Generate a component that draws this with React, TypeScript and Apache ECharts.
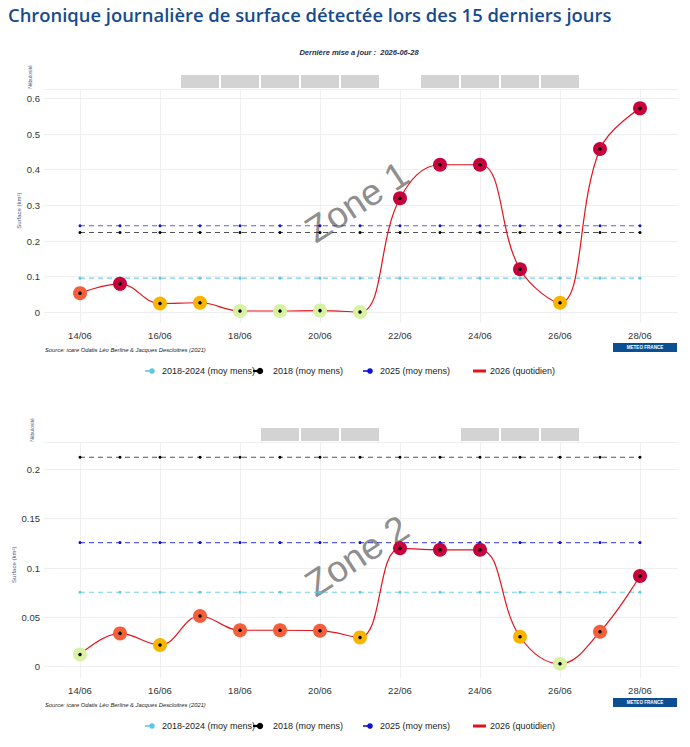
import React, { useEffect, useRef } from 'react';
import * as echarts from 'echarts';

// ---------- data ----------
const DAYS = [14, 15, 16, 17, 18, 19, 20, 21, 22, 23, 24, 25, 26, 27, 28];
const MONTH = '06';
const TITLE = 'Chronique journalière de surface détectée lors des 15 derniers jours';
const SUBTITLE = 'Dernière mise a jour :  2026-06-28';
const SOURCE = 'Source: icare Odatis Léo Berline & Jacques Descloitres (2021)';
const LEGEND_NAMES = ['2018-2024 (moy mens)', '2018 (moy mens)', '2025 (moy mens)', '2026 (quotidien)'];

// Zone 1
const Z1_VALUES = [0.054, 0.080, 0.025, 0.027, 0.004, 0.004, 0.005, 0.001, 0.320, 0.414, 0.414, 0.121, 0.027, 0.458, 0.572];
const Z1_CLASSES = [2, 3, 1, 1, 0, 0, 0, 0, 3, 3, 3, 3, 1, 3, 3];
const Z1_REF_2018_2024 = 0.096;
const Z1_REF_2018 = 0.224;
const Z1_REF_2025 = 0.243;
const Z1_CLOUDY_DAYS = [17, 18, 19, 20, 21, 23, 24, 25, 26];

// Zone 2
const Z2_VALUES = [0.0125, 0.0338, 0.022, 0.0514, 0.037, 0.037, 0.0365, 0.0297, 0.120, 0.1185, 0.1185, 0.0304, 0.003, 0.0355, 0.0919];
const Z2_CLASSES = [0, 2, 1, 2, 2, 2, 2, 1, 3, 3, 3, 1, 0, 2, 3];
const Z2_REF_2018_2024 = 0.0755;
const Z2_REF_2018 = 0.2122;
const Z2_REF_2025 = 0.1258;
const Z2_CLOUDY_DAYS = [19, 20, 21, 24, 25, 26];

// ---------- styles ----------
const PALETTE = ['#d8f2a4', '#f7b500', '#f45e3a', '#c6033c'];
const C_LIGHT = '#5cc8e6';
const C_BLACK = '#000000';
const C_BLUE = '#1010d8';
const C_RED = '#e3131b';
const FONT = '"Liberation Sans", Arial, sans-serif';

type Panel = {
  values: number[];
  classes: number[];
  refs: number[];
  cloudy: number[];
  yMin: number;
  yMax: number;
  step: number;
  stripTop: number;
  mainTop: number;
  mainHeight: number;
  zone: string;
};

const PANELS: Panel[] = [
  {
    values: Z1_VALUES, classes: Z1_CLASSES,
    refs: [Z1_REF_2018_2024, Z1_REF_2018, Z1_REF_2025],
    cloudy: Z1_CLOUDY_DAYS, yMin: -0.0297, yMax: 0.6263, step: 0.1,
    stripTop: 75, mainTop: 89, mainHeight: 234, zone: 'Zone 1',
  },
  {
    values: Z2_VALUES, classes: Z2_CLASSES,
    refs: [Z2_REF_2018_2024, Z2_REF_2018, Z2_REF_2025],
    cloudy: Z2_CLOUDY_DAYS, yMin: -0.0114, yMax: 0.2277, step: 0.05,
    stripTop: 428, mainTop: 442, mainHeight: 236, zone: 'Zone 2',
  },
];

const GRID_LEFT = 44;
const GRID_RIGHT = 12;
const X_MIN = 13.1;
const X_MAX = 28.95;

function buildOption() {
  const grid: any[] = [];
  const xAxis: any[] = [];
  const yAxis: any[] = [];
  const series: any[] = [];
  const graphic: any[] = [];

  graphic.push({
    type: 'text', x: 8, y: 5, z: 100,
    style: { text: TITLE, fontSize: 18.4, fontWeight: 600, fontFamily: '"Open Sans", sans-serif', fill: '#174b8b' },
  });
  graphic.push({
    type: 'text', x: 359, y: 52, z: 100,
    style: {
      text: SUBTITLE, fontSize: 7.5, fontWeight: 'bold', fontStyle: 'italic', fontFamily: FONT,
      fill: '#1e2d4d', align: 'center', verticalAlign: 'middle',
    },
  });

  PANELS.forEach((p, k) => {
    const gi = k * 2;
    const mainBottom = p.mainTop + p.mainHeight;
    grid.push({ left: GRID_LEFT, right: GRID_RIGHT, top: p.mainTop, height: p.mainHeight, containLabel: false });
    grid.push({ left: GRID_LEFT, right: GRID_RIGHT, top: p.stripTop, height: 13, containLabel: false });

    xAxis.push({
      type: 'value', gridIndex: gi, min: X_MIN, max: X_MAX, minInterval: 2, maxInterval: 2,
      axisLine: { show: false }, axisTick: { show: false },
      axisLabel: {
        fontSize: 9.5, color: '#333', fontFamily: FONT, margin: 7,
        formatter: (v: number) => (Math.abs(v - Math.round(v)) < 1e-6 ? `${Math.round(v)}/${MONTH}` : ''),
      },
      splitLine: { show: true, showMinLine: false, showMaxLine: false, lineStyle: { color: '#ebebeb', width: 0.8 } },
    });
    xAxis.push({
      type: 'value', gridIndex: gi + 1, min: X_MIN, max: X_MAX, show: false,
    });
    yAxis.push({
      type: 'value', gridIndex: gi, min: p.yMin, max: p.yMax, minInterval: p.step, maxInterval: p.step,
      axisLine: { show: false }, axisTick: { show: false },
      axisLabel: {
        fontSize: 9.5, color: '#333', fontFamily: FONT, margin: 4,
        formatter: (v: number) => {
          const r = v / p.step;
          return Math.abs(r - Math.round(r)) < 1e-6 ? String(+v.toFixed(3)) : '';
        },
      },
      splitLine: { show: true, showMinLine: false, lineStyle: { color: '#ebebeb', width: 0.8 } },
    });
    yAxis.push({
      type: 'value', gridIndex: gi + 1, min: 0, max: 1, show: false,
    });

    // cloud strip
    series.push({
      type: 'bar', xAxisIndex: gi + 1, yAxisIndex: gi + 1, barWidth: 38, z: 1,
      itemStyle: { color: '#d3d3d3' },
      data: p.cloudy.map((d) => [d, 1]),
    });

    const refColors = [C_LIGHT, C_BLACK, C_BLUE];
    const refLineColors = ['rgba(92,200,230,0.85)', 'rgba(40,40,40,0.8)', 'rgba(40,40,220,0.75)'];
    p.refs.forEach((v, j) => {
      series.push({
        type: 'line', name: LEGEND_NAMES[j], xAxisIndex: gi, yAxisIndex: gi, z: 2,
        symbol: 'circle', symbolSize: 3, showSymbol: true,
        itemStyle: { color: refColors[j] },
        lineStyle: { color: refLineColors[j], width: 1.1, type: [5, 4] },
        data: DAYS.map((d) => [d, v]),
      });
    });

    series.push({
      type: 'line', name: LEGEND_NAMES[3], xAxisIndex: gi, yAxisIndex: gi, z: 3,
      smooth: 0.4, symbol: 'none',
      lineStyle: { color: C_RED, width: 1.2 },
      data: DAYS.map((d, i) => [d, p.values[i]]),
    });
    series.push({
      type: 'scatter', xAxisIndex: gi, yAxisIndex: gi, z: 4, symbolSize: 14,
      itemStyle: { opacity: 1 },
      data: DAYS.map((d, i) => ({ value: [d, p.values[i]], itemStyle: { color: PALETTE[p.classes[i]], opacity: 1 } })),
    });
    series.push({
      type: 'scatter', xAxisIndex: gi, yAxisIndex: gi, z: 5, symbolSize: 3.5,
      itemStyle: { color: '#000', opacity: 1 },
      data: DAYS.map((d, i) => [d, p.values[i]]),
    });

    // side labels
    graphic.push({
      type: 'text', x: k === 0 ? 30 : 32, y: p.stripTop + 2, rotation: Math.PI / 2, z: 100,
      style: { text: 'Nébulosité', fontSize: 5, fontFamily: FONT, fill: '#4d5d85', align: 'center', verticalAlign: 'middle' },
    });
    graphic.push({
      type: 'text', x: k === 0 ? 19 : 14, y: p.mainTop + p.mainHeight * 0.52, rotation: Math.PI / 2, z: 100,
      style: { text: 'Surface (km²)', fontSize: 6, fontFamily: FONT, fill: '#4d5d85', align: 'center', verticalAlign: 'middle' },
    });

    // zone watermark
    graphic.push({
      type: 'text', x: 357, y: p.mainTop + p.mainHeight * 0.5 - 4, rotation: 0.58, z: 1,
      style: { text: p.zone, fontSize: 37, fontFamily: FONT, fill: 'rgba(128,128,128,0.9)', align: 'center', verticalAlign: 'middle' },
    });

    // source and badge
    const sy = mainBottom + 27;
    graphic.push({
      type: 'text', x: 45, y: sy, z: 100,
      style: { text: SOURCE, fontSize: 5.8, fontStyle: 'italic', fontFamily: FONT, fill: '#222', verticalAlign: 'middle' },
    });
    graphic.push({
      type: 'rect', x: 613, y: mainBottom + 20, z: 100,
      shape: { width: 64, height: 9 }, style: { fill: '#0b4f92' },
    });
    graphic.push({
      type: 'text', x: 645, y: mainBottom + 24.5, z: 101,
      style: { text: 'METEO FRANCE', fontSize: 4.6, fontWeight: 'bold', fontFamily: FONT, fill: '#fff', align: 'center', verticalAlign: 'middle' },
    });

    // legend
    const ly = mainBottom + 48;
    const icons = [
      { x: 145, color: C_LIGHT, tx: 162 },
      { x: 253, color: C_BLACK, tx: 273 },
      { x: 363, color: C_BLUE, tx: 380 },
    ];
    icons.forEach((ic, j) => {
      graphic.push({
        type: 'line', z: 100, shape: { x1: ic.x, y1: ly, x2: ic.x + 9, y2: ly },
        style: { stroke: ic.color, lineWidth: j === 1 ? 2.2 : 1.6 },
      });
      graphic.push({
        type: 'circle', z: 100, shape: { cx: ic.x + 7, cy: ly, r: j === 1 ? 3.2 : 2.8 },
        style: { fill: ic.color },
      });
      graphic.push({
        type: 'text', x: ic.tx, y: ly, z: 100,
        style: { text: LEGEND_NAMES[j], fontSize: 9, fontFamily: FONT, fill: '#222', verticalAlign: 'middle' },
      });
    });
    graphic.push({
      type: 'rect', x: 473, y: ly - 1.5, z: 100, shape: { width: 13, height: 3 }, style: { fill: C_RED },
    });
    graphic.push({
      type: 'text', x: 490, y: ly, z: 100,
      style: { text: LEGEND_NAMES[3], fontSize: 9, fontFamily: FONT, fill: '#222', verticalAlign: 'middle' },
    });
  });

  return {
    animation: false,
    backgroundColor: '#ffffff',
    grid, xAxis, yAxis, series, graphic,
  };
}

export default function App() {
  const ref = useRef<HTMLDivElement>(null);
  useEffect(() => {
    if (!ref.current) return;
    const chart = echarts.init(ref.current, undefined, { renderer: 'svg' });
    chart.setOption(buildOption() as any);
    return () => chart.dispose();
  }, []);
  return (
    <div
      ref={ref}
      style={{ position: 'absolute', left: 0, top: 0, width: 690, height: 747, background: '#fff' }}
    />
  );
}
